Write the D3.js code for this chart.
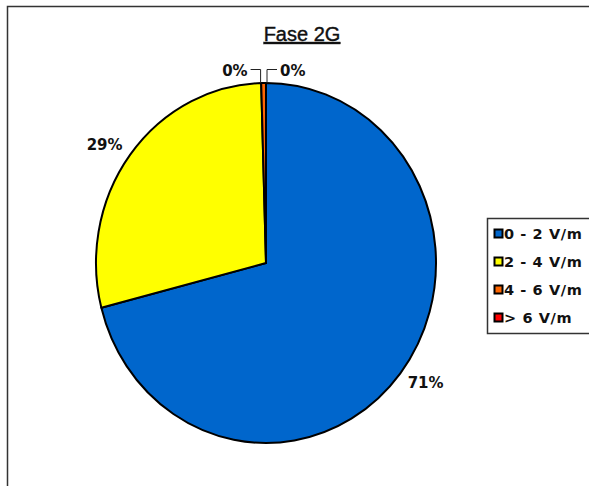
<!DOCTYPE html>
<html>
<head>
<meta charset="utf-8">
<script src="https://cdn.jsdelivr.net/npm/d3@7"></script>
<style>
  body { margin: 0; background: #fff; }
  svg { display: block; }
</style>
</head>
<body>
<div id="wrapper"></div>
<script>
// chart data
const title = "Fase 2G";
const categories = ["0 - 2 V/m", "2 - 4 V/m", "4 - 6 V/m", "> 6 V/m"];
const values = [71.0, 28.55, 0.45, 0.0];
const colors = ["#0066cc", "#ffff00", "#ff6600", "#ff0000"];

const width = 589, height = 486;
const cx = 266, cy = 263, rx = 170, ry = 180;

const svg = d3.select("#wrapper").append("svg")
  .attr("width", width)
  .attr("height", height);

// outer frame (right and bottom edges run off the picture)
svg.append("rect")
  .attr("x", 7.5).attr("y", 6.5)
  .attr("width", 700).attr("height", 600)
  .attr("fill", "none")
  .attr("stroke", "#333")
  .attr("stroke-width", 1.5);

// title
svg.append("text")
  .attr("x", 302).attr("y", 41)
  .attr("text-anchor", "middle")
  .attr("font-family", "Liberation Sans, Arial, sans-serif")
  .attr("font-size", 20)
  .attr("fill", "#111")
  .attr("stroke", "#111")
  .attr("stroke-width", 0.4)
  .attr("text-decoration", "underline")
  .text(title);

const data = categories.map((c, i) => ({ name: c, value: values[i], color: colors[i] }));
const pie = d3.pie().sort(null).value(d => d.value);
const arcs = pie(data);
const arc = d3.arc().innerRadius(0).outerRadius(rx);

// pie drawn as a circle and squashed into an ellipse
const pieG = svg.append("g")
  .attr("transform", `translate(${cx},${cy}) scale(1,${ry / rx})`);

pieG.selectAll("path")
  .data(arcs)
  .enter()
  .append("path")
  .attr("d", arc)
  .attr("fill", d => d.data.color)
  .attr("stroke", "#000")
  .attr("stroke-width", 2)
  .attr("stroke-linejoin", "round")
  .style("vector-effect", "non-scaling-stroke");

const pct = d => Math.round(d.value) + "%";
const labelFont = "DejaVu Sans, Verdana, sans-serif";

// labels for big slices
const lrx = 202, lry = 196;
svg.selectAll("text.big")
  .data(arcs.filter(d => d.data.value >= 2))
  .enter()
  .append("text")
  .attr("class", "big")
  .attr("x", d => cx + lrx * Math.sin((d.startAngle + d.endAngle) / 2))
  .attr("y", d => cy - lry * Math.cos((d.startAngle + d.endAngle) / 2))
  .attr("text-anchor", "middle")
  .attr("dominant-baseline", "central")
  .attr("font-family", labelFont)
  .attr("font-weight", "bold")
  .attr("font-size", 15)
  .attr("fill", "#111")
  .text(d => pct(d.data));

// labels with leader lines for the tiny slices near the top
const small = arcs.filter(d => d.data.value < 2);
const leaderY = 69.5;
small.forEach((d, i) => {
  const side = i === 0 ? -1 : 1;
  const a = (d.startAngle + d.endAngle) / 2;
  const px = cx + rx * Math.sin(a) + (i === 0 ? -3 : 1);
  const py = cy - ry * Math.cos(a);
  const ex = px + side * 10;
  svg.append("path")
    .attr("d", `M${px},${py} L${px},${leaderY} L${ex},${leaderY}`)
    .attr("fill", "none")
    .attr("stroke", "#222")
    .attr("stroke-width", 1);
  svg.append("text")
    .attr("x", ex + side * 3)
    .attr("y", leaderY + 1)
    .attr("text-anchor", side < 0 ? "end" : "start")
    .attr("dominant-baseline", "central")
    .attr("font-family", labelFont)
    .attr("font-weight", "bold")
    .attr("font-size", 15)
    .attr("fill", "#111")
    .text(pct(d.data));
});

// legend
const legend = svg.append("g");
legend.append("rect")
  .attr("x", 487.5).attr("y", 218.5)
  .attr("width", 200).attr("height", 115)
  .attr("fill", "#fff")
  .attr("stroke", "#333")
  .attr("stroke-width", 1.5);

const rowY = d3.scalePoint().domain(categories).range([234, 318]);
const items = legend.selectAll("g.item")
  .data(data)
  .enter()
  .append("g")
  .attr("class", "item")
  .attr("transform", d => `translate(494,${rowY(d.name)})`);

items.append("rect")
  .attr("x", 0.5).attr("y", -4.5)
  .attr("width", 8).attr("height", 8)
  .attr("fill", d => d.color)
  .attr("stroke", "#000")
  .attr("stroke-width", 2);

items.append("text")
  .attr("x", 10)
  .attr("y", 0)
  .attr("dominant-baseline", "central")
  .attr("font-family", labelFont)
  .attr("font-weight", "bold")
  .attr("font-size", 14.5)
  .attr("letter-spacing", 0.6)
  .attr("fill", "#111")
  .text(d => d.name);
</script>
</body>
</html>
